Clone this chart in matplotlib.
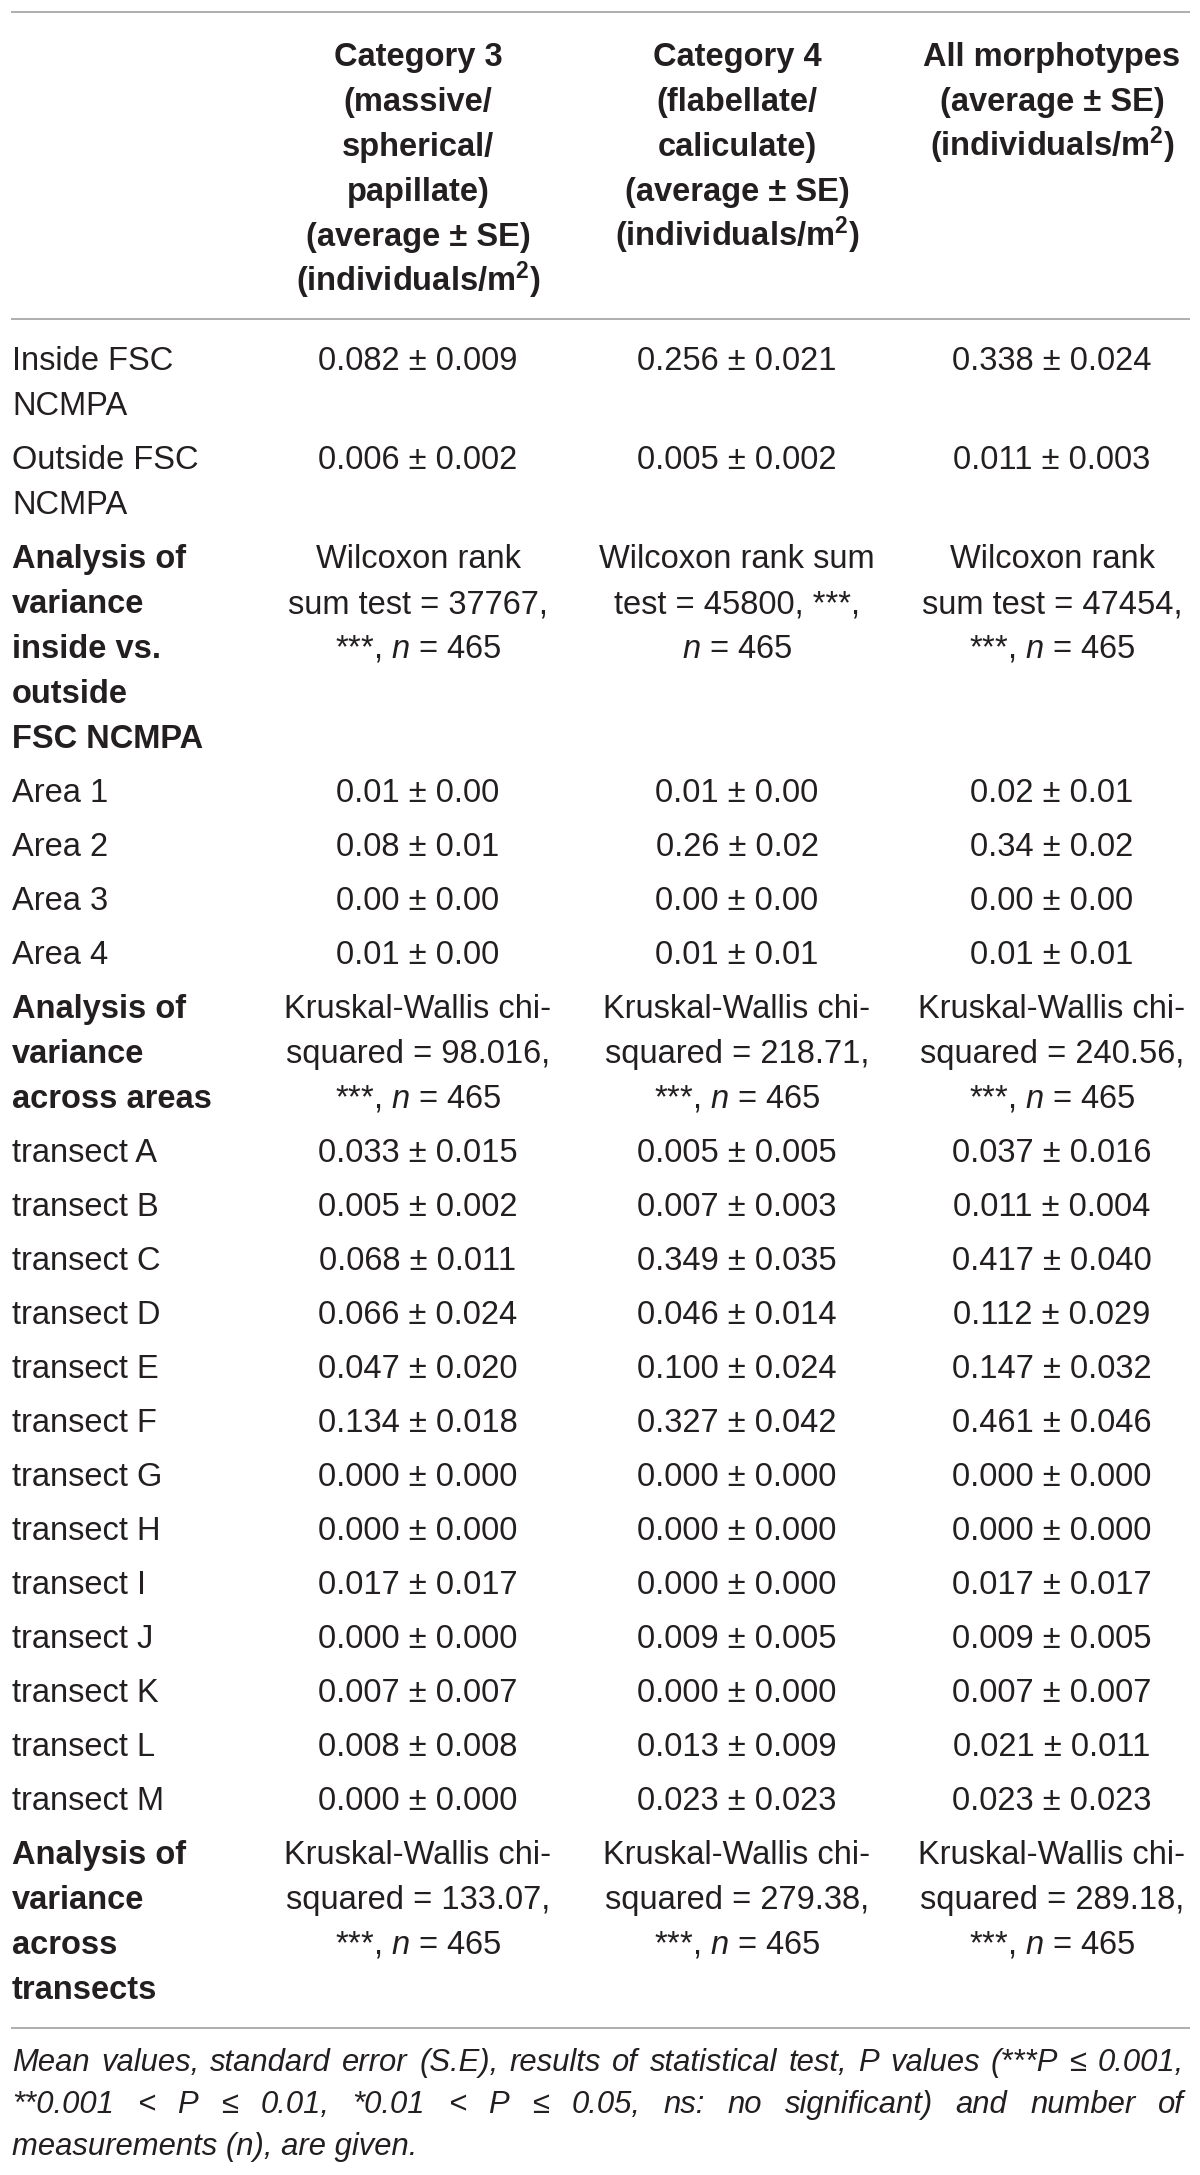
import matplotlib
matplotlib.use("Agg")
import matplotlib.pyplot as plt

plt.rcParams['font.family'] = ['Liberation Sans', 'DejaVu Sans']
plt.rcParams['mathtext.fontset'] = 'custom'
plt.rcParams['mathtext.rm'] = 'Liberation Sans'
plt.rcParams['mathtext.it'] = 'Liberation Sans:italic'
plt.rcParams['mathtext.bf'] = 'Liberation Sans:bold'

# table content
col_headers = [
    "Category 3\n(massive/\nspherical/\npapillate)\n(average \u00b1 SE)\n(individuals/m$^{\\mathbf{2}}$)",
    "Category 4\n(flabellate/\ncaliculate)\n(average \u00b1 SE)\n(individuals/m$^{\\mathbf{2}}$)",
    "All morphotypes\n(average \u00b1 SE)\n(individuals/m$^{\\mathbf{2}}$)",
]

row_labels = [
    "Inside FSC\nNCMPA", "Outside FSC\nNCMPA",
    "Analysis of\nvariance\ninside vs.\noutside\nFSC NCMPA",
    "Area 1", "Area 2", "Area 3", "Area 4",
    "Analysis of\nvariance\nacross areas",
    "transect A", "transect B", "transect C", "transect D", "transect E",
    "transect F", "transect G", "transect H", "transect I", "transect J",
    "transect K", "transect L", "transect M",
    "Analysis of\nvariance\nacross\ntransects",
]
bold_rows = [2, 7, 21]

N = "$\\mathit{n}$"
cat3_vals = [
    "0.082 \u00b1 0.009", "0.006 \u00b1 0.002",
    "Wilcoxon rank\nsum test = 37767,\n***, " + N + " = 465",
    "0.01 \u00b1 0.00", "0.08 \u00b1 0.01", "0.00 \u00b1 0.00", "0.01 \u00b1 0.00",
    "Kruskal-Wallis chi-\nsquared = 98.016,\n***, " + N + " = 465",
    "0.033 \u00b1 0.015", "0.005 \u00b1 0.002", "0.068 \u00b1 0.011", "0.066 \u00b1 0.024",
    "0.047 \u00b1 0.020", "0.134 \u00b1 0.018", "0.000 \u00b1 0.000", "0.000 \u00b1 0.000",
    "0.017 \u00b1 0.017", "0.000 \u00b1 0.000", "0.007 \u00b1 0.007", "0.008 \u00b1 0.008",
    "0.000 \u00b1 0.000",
    "Kruskal-Wallis chi-\nsquared = 133.07,\n***, " + N + " = 465",
]
cat4_vals = [
    "0.256 \u00b1 0.021", "0.005 \u00b1 0.002",
    "Wilcoxon rank sum\ntest = 45800, ***,\n" + N + " = 465",
    "0.01 \u00b1 0.00", "0.26 \u00b1 0.02", "0.00 \u00b1 0.00", "0.01 \u00b1 0.01",
    "Kruskal-Wallis chi-\nsquared = 218.71,\n***, " + N + " = 465",
    "0.005 \u00b1 0.005", "0.007 \u00b1 0.003", "0.349 \u00b1 0.035", "0.046 \u00b1 0.014",
    "0.100 \u00b1 0.024", "0.327 \u00b1 0.042", "0.000 \u00b1 0.000", "0.000 \u00b1 0.000",
    "0.000 \u00b1 0.000", "0.009 \u00b1 0.005", "0.000 \u00b1 0.000", "0.013 \u00b1 0.009",
    "0.023 \u00b1 0.023",
    "Kruskal-Wallis chi-\nsquared = 279.38,\n***, " + N + " = 465",
]
all_vals = [
    "0.338 \u00b1 0.024", "0.011 \u00b1 0.003",
    "Wilcoxon rank\nsum test = 47454,\n***, " + N + " = 465",
    "0.02 \u00b1 0.01", "0.34 \u00b1 0.02", "0.00 \u00b1 0.00", "0.01 \u00b1 0.01",
    "Kruskal-Wallis chi-\nsquared = 240.56,\n***, " + N + " = 465",
    "0.037 \u00b1 0.016", "0.011 \u00b1 0.004", "0.417 \u00b1 0.040", "0.112 \u00b1 0.029",
    "0.147 \u00b1 0.032", "0.461 \u00b1 0.046", "0.000 \u00b1 0.000", "0.000 \u00b1 0.000",
    "0.017 \u00b1 0.017", "0.009 \u00b1 0.005", "0.007 \u00b1 0.007", "0.021 \u00b1 0.011",
    "0.023 \u00b1 0.023",
    "Kruskal-Wallis chi-\nsquared = 289.18,\n***, " + N + " = 465",
]

caption_lines = [
    "Mean values, standard error (S.E), results of statistical test, P values (***P \u2264 0.001,",
    "**0.001 < P \u2264 0.01, *0.01 < P \u2264 0.05, ns: no significant) and number of",
    "measurements (n), are given.",
]

W, H = 1200, 2175
fig = plt.figure(figsize=(W / 100, H / 100), dpi=100)
ax = fig.add_axes([0, 0, 1, 1])
ax.set_xlim(0, W)
ax.set_ylim(H, 0)
ax.axis('off')

TXT = '#231f20'
FS = 23.5
LINE = 45      # spacing of lines inside a cell
GAP = 54       # from last line of a row to first line of next
BASE = 11      # center -> baseline offset
x_left = 12
col_x = [418, 737, 1052]

# rules
for yy in [12, 319, 2028]:
    ax.plot([11, 1190], [yy, yy], color='#a8a8a8', lw=1.3, solid_capstyle='butt')

# header
for cx, hdr in zip(col_x, col_headers):
    for i, line in enumerate(hdr.split('\n')):
        ax.text(cx, 55 + i * LINE + BASE, line, ha='center', va='baseline',
                fontsize=FS, fontweight='bold', color=TXT)

# body
y = 359
for r, lab in enumerate(row_labels):
    cells = [lab, cat3_vals[r], cat4_vals[r], all_vals[r]]
    nmax = max(len(c.split('\n')) for c in cells)
    for j, cell in enumerate(cells):
        for i, line in enumerate(cell.split('\n')):
            yy = y + i * LINE + BASE
            if j == 0:
                ax.text(x_left, yy, line, ha='left', va='baseline', fontsize=FS, color=TXT,
                        fontweight='bold' if r in bold_rows else 'normal')
            else:
                ax.text(col_x[j - 1], yy, line, ha='center', va='baseline',
                        fontsize=FS, color=TXT)
    y += (nmax - 1) * LINE + GAP

# caption, justified like the source
renderer = fig.canvas.get_renderer()
cap_base = [2071, 2113, 2155]
CFS = 22.3
for k, line in enumerate(caption_lines):
    words = line.split(' ')
    yy = cap_base[k]
    if k == len(caption_lines) - 1:
        ax.text(x_left, yy, line, ha='left', va='baseline', fontsize=CFS,
                style='italic', color=TXT)
        continue
    objs = [ax.text(0, yy, w, ha='left', va='baseline', fontsize=CFS,
                    style='italic', color=TXT) for w in words]
    widths = [o.get_window_extent(renderer).width for o in objs]
    gap = (1184 - x_left - sum(widths)) / (len(words) - 1)
    xx = x_left
    for o, wd in zip(objs, widths):
        o.set_x(xx)
        xx += wd + gap

fig.savefig('out.png', dpi=100, facecolor='white')
